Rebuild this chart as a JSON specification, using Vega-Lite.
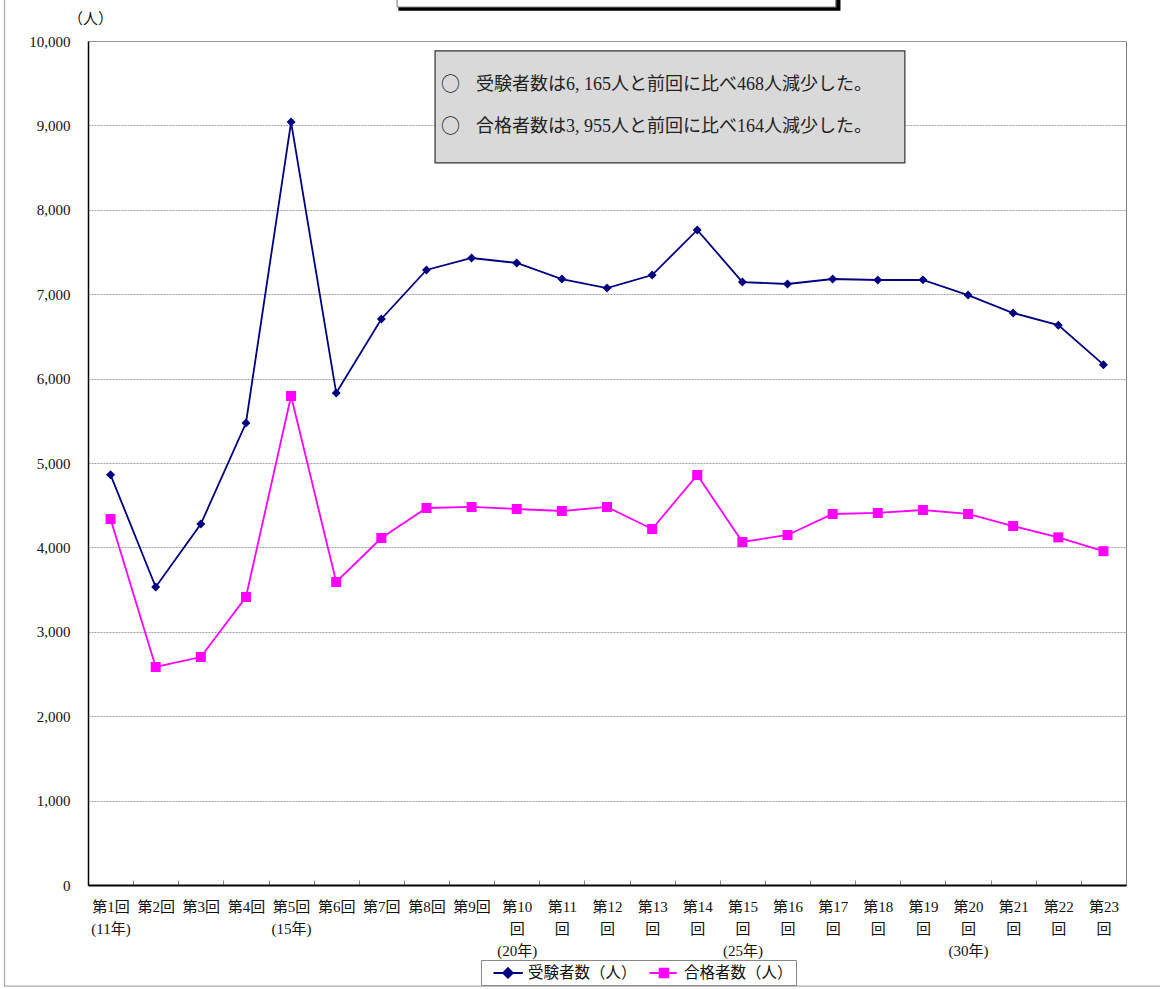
{
  "$schema": "https://vega.github.io/schema/vega-lite/v6.json",
  "autosize": "none",
  "width": 1038,
  "height": 844,
  "padding": {"left": 88, "top": 41, "right": 34, "bottom": 104},
  "background": "white",
  "config": {
    "view": {"stroke": "#7f7f7f", "strokeWidth": 1},
    "font": "Liberation Serif, Noto Sans CJK JP"
  },
  "datasets": {
    "main": [
      {"round": "第1回|(11年)", "series": "受験者数（人）", "value": 4860},
      {"round": "第2回", "series": "受験者数（人）", "value": 3531},
      {"round": "第3回", "series": "受験者数（人）", "value": 4277},
      {"round": "第4回", "series": "受験者数（人）", "value": 5474},
      {"round": "第5回|(15年)", "series": "受験者数（人）", "value": 9040},
      {"round": "第6回", "series": "受験者数（人）", "value": 5829},
      {"round": "第7回", "series": "受験者数（人）", "value": 6706},
      {"round": "第8回", "series": "受験者数（人）", "value": 7287},
      {"round": "第9回", "series": "受験者数（人）", "value": 7429},
      {"round": "第10|回|(20年)", "series": "受験者数（人）", "value": 7370},
      {"round": "第11|回", "series": "受験者数（人）", "value": 7180},
      {"round": "第12|回", "series": "受験者数（人）", "value": 7073},
      {"round": "第13|回", "series": "受験者数（人）", "value": 7227},
      {"round": "第14|回", "series": "受験者数（人）", "value": 7761},
      {"round": "第15|回|(25年)", "series": "受験者数（人）", "value": 7144},
      {"round": "第16|回", "series": "受験者数（人）", "value": 7121},
      {"round": "第17|回", "series": "受験者数（人）", "value": 7180},
      {"round": "第18|回", "series": "受験者数（人）", "value": 7168},
      {"round": "第19|回", "series": "受験者数（人）", "value": 7170},
      {"round": "第20|回|(30年)", "series": "受験者数（人）", "value": 6990},
      {"round": "第21|回", "series": "受験者数（人）", "value": 6777},
      {"round": "第22|回", "series": "受験者数（人）", "value": 6633},
      {"round": "第23|回", "series": "受験者数（人）", "value": 6165},
      {"round": "第1回|(11年)", "series": "合格者数（人）", "value": 4336},
      {"round": "第2回", "series": "合格者数（人）", "value": 2583},
      {"round": "第3回", "series": "合格者数（人）", "value": 2701},
      {"round": "第4回", "series": "合格者数（人）", "value": 3412},
      {"round": "第5回|(15年)", "series": "合格者数（人）", "value": 5794},
      {"round": "第6回", "series": "合格者数（人）", "value": 3590},
      {"round": "第7回", "series": "合格者数（人）", "value": 4111},
      {"round": "第8回", "series": "合格者数（人）", "value": 4467},
      {"round": "第9回", "series": "合格者数（人）", "value": 4479},
      {"round": "第10|回|(20年)", "series": "合格者数（人）", "value": 4455},
      {"round": "第11|回", "series": "合格者数（人）", "value": 4431},
      {"round": "第12|回", "series": "合格者数（人）", "value": 4479},
      {"round": "第13|回", "series": "合格者数（人）", "value": 4218},
      {"round": "第14|回", "series": "合格者数（人）", "value": 4858},
      {"round": "第15|回|(25年)", "series": "合格者数（人）", "value": 4064},
      {"round": "第16|回", "series": "合格者数（人）", "value": 4147},
      {"round": "第17|回", "series": "合格者数（人）", "value": 4396},
      {"round": "第18|回", "series": "合格者数（人）", "value": 4408},
      {"round": "第19|回", "series": "合格者数（人）", "value": 4443},
      {"round": "第20|回|(30年)", "series": "合格者数（人）", "value": 4396},
      {"round": "第21|回", "series": "合格者数（人）", "value": 4253},
      {"round": "第22|回", "series": "合格者数（人）", "value": 4119},
      {"round": "第23|回", "series": "合格者数（人）", "value": 3955}
    ],
    "frames": [
      {"x0": -1.35, "x1": 26, "y0": -1197, "y1": 12000, "fill": "none", "stroke": "#aaaaaa"},
      {"x0": 7.39, "x1": 17.16, "y0": 10367, "y1": 12000, "fill": "#000000", "stroke": "#000000"},
      {"x0": 7.35, "x1": 17.07, "y0": 10403, "y1": 12000, "fill": "#ffffff", "stroke": "#888888"},
      {"x0": 8.19, "x1": 18.6, "y0": 8555, "y1": 9882, "fill": "#d9d9d9", "stroke": "#333333"}
    ],
    "notes": [
      {"xc": 8.32, "xt": 9.1, "y": 9479, "text": "受験者数は6, 165人と前回に比べ468人減少した。"},
      {"xc": 8.32, "xt": 9.1, "y": 8981, "text": "合格者数は3, 955人と前回に比べ164人減少した。"}
    ]
  },
  "layer": [
    {
      "data": {"name": "main"},
      "encoding": {
        "x": {
          "field": "round",
          "type": "ordinal",
          "sort": null,
          "scale": {"paddingInner": 0, "paddingOuter": 0},
          "axis": {
            "title": null,
            "labelAngle": 0,
            "labelExpr": "isValid(datum.value) ? split(datum.value, '|') : ''",
            "labelFontSize": 15,
            "labelLineHeight": 22,
            "labelColor": "#111111",
            "labelPadding": 19,
            "labelBaseline": "top",
            "tickBand": "extent",
            "tickSize": -5,
            "tickColor": "#888888",
            "domainColor": "#000000",
            "domainWidth": 2,
            "grid": false
          }
        },
        "y": {
          "field": "value",
          "type": "quantitative",
          "scale": {"domain": [0, 10000], "nice": false},
          "axis": {
            "values": [0, 1000, 2000, 3000, 4000, 5000, 6000, 7000, 8000, 9000, 10000],
            "labelExpr": "format(datum.value, ',')",
            "title": "（人）",
            "titleAngle": 0,
            "titleX": 2,
            "titleY": -23,
            "titleAlign": "center",
            "titleBaseline": "middle",
            "titleFontSize": 15,
            "titleFontWeight": "normal",
            "titleColor": "#111111",
            "labelFontSize": 15,
            "labelColor": "#111111",
            "labelPadding": 18,
            "ticks": false,
            "domainColor": "#000000",
            "domainWidth": 1.5,
            "grid": true,
            "gridColor": "#a0a0a0",
            "gridDash": [2, 1],
            "gridWidth": 1
          }
        },
        "color": {
          "field": "series",
          "type": "nominal",
          "sort": null,
          "scale": {"domain": ["受験者数（人）", "合格者数（人）"], "range": ["#000080", "#ff00ff"]},
          "legend": {
            "orient": "none",
            "legendX": 393,
            "legendY": 919,
            "direction": "horizontal",
            "title": null,
            "labelFontSize": 15.5,
            "labelColor": "#111111",
            "symbolSize": 289,
            "symbolStrokeWidth": 2,
            "strokeColor": "#888888",
            "padding": 3,
            "columnPadding": 3,
            "labelOffset": 25,
            "encode": {
              "symbols": {
                "update": {
                  "shape": {"signal": "datum.value === '受験者数（人）' ? 'M0,0H3.45M1.7,-0.55L2.25,0L1.7,0.55L1.15,0Z' : 'M0,0H3.2M1.2,-0.5H2.2V0.5H1.2Z'"},
                  "fill": {"signal": "datum.value === '受験者数（人）' ? '#000080' : '#ff00ff'"},
                  "stroke": {"signal": "datum.value === '受験者数（人）' ? '#000080' : '#ff00ff'"},
                  "fillOpacity": {"value": 1},
                  "strokeOpacity": {"value": 1},
                  "opacity": {"value": 1},
                  "strokeWidth": {"value": 2}
                }
              }
            }
          }
        }
      },
      "layer": [
        {"mark": {"type": "line", "strokeWidth": 1.8}},
        {
          "mark": {"type": "point", "filled": true, "opacity": 1},
          "encoding": {
            "shape": {"condition": {"test": "datum.series === '受験者数（人）'", "value": "diamond"}, "value": "square"},
            "size": {"condition": {"test": "datum.series === '受験者数（人）'", "value": 80}, "value": 100}
          }
        }
      ]
    },
    {
      "data": {"name": "frames"},
      "layer": [
        {
          "mark": {"type": "rect", "strokeWidth": 1.2, "clip": false},
          "encoding": {
            "x": {"field": "x0", "type": "quantitative", "scale": {"domain": [0.5, 23.5], "nice": false, "zero": false}, "axis": null},
            "x2": {"field": "x1"},
            "y": {"field": "y0", "type": "quantitative"},
            "y2": {"field": "y1"},
            "fill": {"field": "fill", "type": "nominal", "scale": null},
            "stroke": {"field": "stroke", "type": "nominal", "scale": null}
          }
        },
        {
          "data": {"name": "notes"},
          "mark": {"type": "text", "align": "left", "baseline": "middle", "fontSize": 19, "font": "Noto Sans CJK JP", "color": "#222222"},
          "encoding": {
            "x": {"field": "xc", "type": "quantitative", "scale": {"domain": [0.5, 23.5], "nice": false, "zero": false}, "axis": null},
            "y": {"field": "y", "type": "quantitative"},
            "text": {"value": "○"}
          }
        },
        {
          "data": {"name": "notes"},
          "mark": {"type": "text", "align": "left", "baseline": "middle", "fontSize": 18, "color": "#222222"},
          "encoding": {
            "x": {"field": "xt", "type": "quantitative", "scale": {"domain": [0.5, 23.5], "nice": false, "zero": false}, "axis": null},
            "y": {"field": "y", "type": "quantitative"},
            "text": {"field": "text"}
          }
        }
      ]
    }
  ],
  "resolve": {"scale": {"x": "independent"}}
}
